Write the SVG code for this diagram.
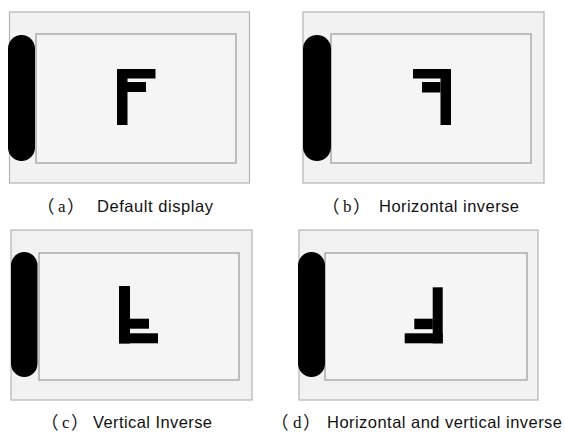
<svg xmlns="http://www.w3.org/2000/svg" width="565" height="432" viewBox="0 0 565 432">
<style>
.outer{fill:#f2f2f2;stroke:#b3b3b3;stroke-width:1.2}
.inner{fill:#f5f5f5;stroke:#9a9a9a;stroke-width:1.2}
.pill{fill:#000}
.bar{fill:#000}
.cap{font-family:"Liberation Sans",Arial,sans-serif;font-size:16.5px;fill:#111}
.par{font-family:"Noto Sans CJK SC",sans-serif;font-size:17.5px;fill:#111}
.let{font-family:"Liberation Serif",serif;font-size:17px;fill:#111}
</style>
<rect width="565" height="432" fill="#fff"/>
<g id="panel-a">
<rect class="outer" x="9.5" y="12" width="240" height="171"/>
<rect class="inner" x="36" y="34" width="200" height="129"/>
<rect class="pill" x="8" y="35" width="27" height="126" rx="13.5"/>
<rect class="bar" x="117" y="69" width="10.5" height="56"/>
<rect class="bar" x="117" y="69" width="38.5" height="9.5"/>
<rect class="bar" x="127" y="82" width="19" height="10"/>
<text class="par" x="37" y="212.5">（</text><text class="let" x="58" y="212">a</text><text class="par" x="67" y="212.5">）</text>
<text class="cap" x="97" y="212" textLength="116" lengthAdjust="spacing">Default display</text>
</g>
<g id="panel-b">
<rect class="outer" x="303" y="12" width="241" height="171"/>
<rect class="inner" x="331" y="34" width="200" height="129"/>
<rect class="pill" x="303" y="35" width="28" height="126" rx="14"/>
<rect class="bar" x="440.5" y="69" width="10.5" height="56"/>
<rect class="bar" x="413" y="69" width="38" height="9.5"/>
<rect class="bar" x="422" y="82" width="18.5" height="10.5"/>
<text class="par" x="322" y="212.5">（</text><text class="let" x="343" y="212">b</text><text class="par" x="353" y="212.5">）</text>
<text class="cap" x="379" y="212" textLength="140" lengthAdjust="spacing">Horizontal inverse</text>
</g>
<g id="panel-c">
<rect class="outer" x="11" y="230" width="241" height="170"/>
<rect class="inner" x="39" y="253" width="200" height="127"/>
<rect class="pill" x="11" y="252" width="26.5" height="125" rx="13.25"/>
<rect class="bar" x="119" y="286" width="11" height="57.5"/>
<rect class="bar" x="119" y="333.3" width="39" height="10"/>
<rect class="bar" x="130" y="318.7" width="19" height="10"/>
<text class="par" x="41" y="428.5">（</text><text class="let" x="62" y="428">c</text><text class="par" x="71" y="428.5">）</text>
<text class="cap" x="93" y="428" textLength="119" lengthAdjust="spacing">Vertical Inverse</text>
</g>
<g id="panel-d">
<rect class="outer" x="299" y="230" width="239" height="170"/>
<rect class="inner" x="325" y="253" width="202" height="127"/>
<rect class="pill" x="298" y="252" width="27" height="125" rx="13.5"/>
<rect class="bar" x="432.7" y="287.3" width="10" height="56"/>
<rect class="bar" x="404.7" y="333.3" width="38" height="10"/>
<rect class="bar" x="414.3" y="318.7" width="18.5" height="10.5"/>
<text class="par" x="271" y="428.5">（</text><text class="let" x="293" y="428">d</text><text class="par" x="303" y="428.5">）</text>
<text class="cap" x="327" y="428" textLength="235" lengthAdjust="spacing">Horizontal and vertical inverse</text>
</g>
<g id="connectors"/>
</svg>
